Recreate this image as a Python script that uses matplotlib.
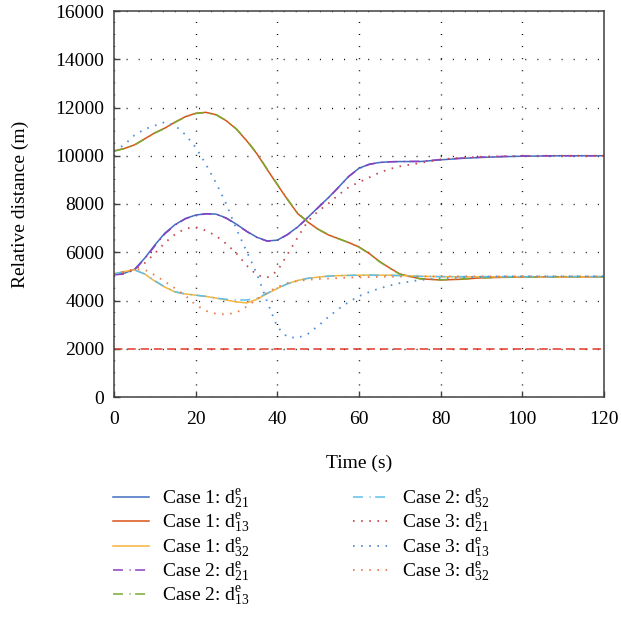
import matplotlib
matplotlib.use("Agg")
import matplotlib.pyplot as plt
import numpy as np

plt.rcParams['font.family'] = ['Liberation Serif', 'DejaVu Serif']
plt.rcParams['mathtext.fontset'] = 'custom'
plt.rcParams['mathtext.rm'] = 'Liberation Serif'
plt.rcParams['mathtext.it'] = 'Liberation Serif:italic'
plt.rcParams['font.size'] = 14

################################################################################

t = [0, 2.5, 5, 7.5, 10, 12.5, 15, 17.5, 20, 22.5, 25, 27.5, 30, 32.5, 35, 37.5,
     40, 42.5, 45, 47.5, 50, 52.5, 55, 57.5, 60, 62.5, 65, 67.5, 70,
     75, 80, 85, 90, 95, 100, 105, 110, 115, 120]

# case 1
c1_d21 = [5100, 5130, 5290, 5750, 6300, 6800, 7150, 7400, 7540, 7600, 7580, 7420, 7160, 6870, 6620, 6470,
          6500, 6740, 7050, 7450, 7860, 8260, 8700, 9150, 9480, 9650, 9720, 9750, 9760,
          9760, 9830, 9890, 9930, 9960, 9980, 9990, 10000, 10000, 10000]
c1_d13 = [10200, 10300, 10450, 10700, 10950, 11150, 11400, 11620, 11760, 11800, 11700, 11450, 11100, 10620, 10080, 9430,
          8800, 8180, 7600, 7250, 6950, 6720, 6560, 6400, 6220, 5950, 5620, 5350, 5100,
          4900, 4850, 4880, 4940, 4960, 4970, 4980, 4980, 4980, 4980]
c1_d32 = [5100, 5200, 5270, 5100, 4800, 4550, 4350, 4270, 4220, 4170, 4100, 4020, 3940, 3900, 4050, 4280,
          4500, 4700, 4830, 4920, 4970, 5010, 5030, 5040, 5050, 5050, 5050, 5050, 5040,
          5000, 4990, 4980, 4980, 4980, 4980, 4980, 4980, 4980, 4980]

# case 2
c2_d21 = [5060, 5100, 5260, 5720, 6260, 6770, 7130, 7390, 7530, 7590, 7570, 7410, 7150, 6860, 6610, 6460,
          6490, 6730, 7040, 7440, 7850, 8250, 8690, 9140, 9470, 9640, 9720, 9750, 9760,
          9770, 9840, 9900, 9940, 9970, 9990, 10000, 10000, 10000, 10000]
c2_d13 = [10190, 10290, 10440, 10690, 10940, 11140, 11390, 11610, 11750, 11790, 11700, 11460, 11110, 10640, 10100, 9450,
          8820, 8200, 7620, 7260, 6960, 6730, 6560, 6400, 6210, 5940, 5610, 5340, 5090,
          4900, 4860, 4890, 4940, 4960, 4970, 4980, 4990, 4990, 4990]
c2_d32 = [5100, 5200, 5270, 5100, 4820, 4560, 4360, 4270, 4220, 4170, 4100, 4050, 4020, 4020, 4100, 4300,
          4500, 4690, 4830, 4920, 4970, 5010, 5030, 5040, 5050, 5050, 5050, 5040, 5030,
          5000, 4990, 4990, 4990, 4990, 4990, 4990, 4990, 4990, 4990]

# case 3
c3_d21 = [5100, 5150, 5280, 5550, 5950, 6400, 6750, 6980, 7040, 6900, 6680, 6350, 5950, 5450, 5050, 4950,
          5220, 5920, 6620, 7300, 7700, 8020, 8380, 8700, 8900, 9100, 9300, 9450, 9560,
          9700, 9850, 9920, 9960, 9980, 9990, 10000, 10000, 10000, 10000]
c3_d13 = [10200, 10450, 10850, 11100, 11250, 11400, 11250, 10870, 10350, 9650, 8870, 8000, 6950, 6030, 5100, 3950,
          2900, 2480, 2450, 2620, 2950, 3320, 3650, 3940, 4180, 4350, 4500, 4620, 4720,
          4850, 4920, 4960, 4980, 5000, 5000, 5000, 5000, 5000, 5000]
c3_d32 = [5100, 5200, 5300, 5280, 5050, 4780, 4500, 4200, 3820, 3570, 3450, 3420, 3500, 3750, 4050, 4330,
          4560, 4720, 4810, 4860, 4890, 4910, 4930, 4950, 4960, 4970, 4980, 4990, 4990,
          5000, 5000, 5000, 5000, 5000, 5000, 5000, 5000, 5000, 5000]

safe_dist = 2000

labels = [r'Case 1: $\mathrm{d}^{\mathrm{e}}_{21}$', r'Case 1: $\mathrm{d}^{\mathrm{e}}_{13}$',
          r'Case 1: $\mathrm{d}^{\mathrm{e}}_{32}$', r'Case 2: $\mathrm{d}^{\mathrm{e}}_{21}$',
          r'Case 2: $\mathrm{d}^{\mathrm{e}}_{13}$', r'Case 2: $\mathrm{d}^{\mathrm{e}}_{32}$',
          r'Case 3: $\mathrm{d}^{\mathrm{e}}_{21}$', r'Case 3: $\mathrm{d}^{\mathrm{e}}_{13}$',
          r'Case 3: $\mathrm{d}^{\mathrm{e}}_{32}$']

################################################################################

solid = '-'
dashdot = (0, (6.5, 4.3, 0.8, 2.9))
dotted = (0, (0.9, 3.6))

series = [
    (c1_d21, '#3f6fbf', solid, 1.1),
    (c1_d13, '#d95319', solid, 1.1),
    (c1_d32, '#f5b43c', solid, 1.1),
    (c2_d21, '#8b3fc1', dashdot, 1.1),
    (c2_d13, '#77ac30', dashdot, 1.1),
    (c2_d32, '#5cc0ec', dashdot, 1.1),
    (c3_d21, '#c44a50', dotted, 1.3),
    (c3_d13, '#4a8fd9', dotted, 1.3),
    (c3_d32, '#ec7d4a', dotted, 1.3),
]

fig = plt.figure(figsize=(6.21, 6.28), dpi=100)
ax = fig.add_axes([114 / 621, 1 - 397 / 628, 490 / 621, 386 / 628])

handles = []
for y, cl, ls, lw in series:
    l, = ax.plot(t, y, color=cl, linestyle=ls, linewidth=lw)
    handles.append(l)

ax.axhline(safe_dist, color='#e0392b', linestyle=(0, (5.5, 3.2)), linewidth=1.1)

ax.set_xlim(0, 120)
ax.set_ylim(0, 16000)
ax.set_xticks(range(0, 121, 20))
ax.set_yticks(range(0, 16001, 2000))
ax.grid(True, color='black', linestyle=(0, (0.7, 8)), linewidth=1.0)
for s in ax.spines.values():
    s.set_color('#404040')
    s.set_linewidth(1.1)
ax.tick_params(direction='in', length=4, width=1.0, color='#404040', pad=7)
ax.tick_params(axis='x', pad=10)

ax.set_xlabel('Time (s)', labelpad=19)
ax.set_ylabel('Relative distance (m)', labelpad=19)

fig.legend(handles, labels, ncol=2, loc='upper left',
           bbox_to_anchor=(113 / 621, 1 - 488 / 628), frameon=False,
           borderpad=0, borderaxespad=0, handlelength=1.85, handletextpad=0.67,
           columnspacing=5.3, labelspacing=0.05)

fig.savefig('out.png', dpi=100)
